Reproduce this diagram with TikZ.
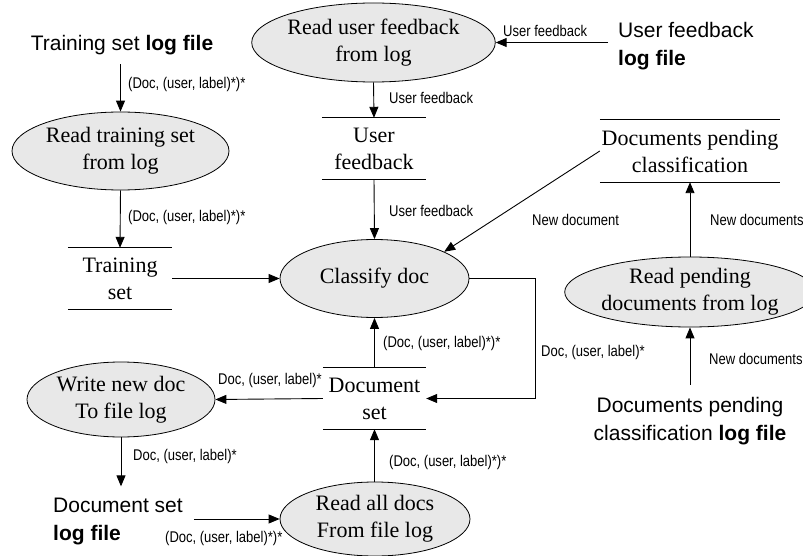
\documentclass[tikz,border=0pt]{standalone}
\usepackage{fontspec}
\setmainfont{Liberation Serif}
\newfontfamily\filesansfam{Liberation Sans}
\newfontfamily\labelsansfam[FakeStretch=0.84]{Liberation Sans}
\usetikzlibrary{shapes.geometric,arrows.meta}
\newcommand\procfont{\rmfamily\fontsize{22}{27}\selectfont}
\newcommand\filefont{\filesansfam\fontsize{21}{28}\selectfont}
\newcommand\flowfont{\labelsansfam\fontsize{15.5}{18}\selectfont}
\definecolor{procfill}{RGB}{232,232,232}
\tikzset{
  proc/.style={ellipse, draw, fill=procfill, line width=0.8pt, inner sep=0pt, align=center, font=\procfont},
  datastore/.style={inner sep=0pt, align=center, font=\procfont},
  logfile/.style={inner sep=0pt, font=\filefont},
  flowlbl/.style={inner sep=0pt, anchor=west, font=\flowfont},
  flow/.style={draw, line width=0.9pt, -{Triangle[length=11pt,width=9pt]}},
  storeline/.style={line width=0.9pt}
}
\begin{document}
\begin{tikzpicture}[x=1pt,y=-1pt]
\useasboundingbox (0,0) rectangle (803,556);

% processes
\node[proc, minimum width=217pt, minimum height=79pt] (rufb) at (373.5,42.5) {Read user feedback\\from log};
\node[proc, minimum width=217pt, minimum height=78pt] (rts) at (120.5,151) {Read training set\\from log};
\node[proc, minimum width=189pt, minimum height=78pt] (cls) at (374.5,278.5) {Classify doc};
\node[proc, minimum width=188pt, minimum height=75pt] (wnd) at (121,399.5) {Write new doc\\To file log};
\node[proc, minimum width=190pt, minimum height=74pt] (rad) at (375,519) {Read all docs\\From file log};
\node[proc, minimum width=216pt, minimum height=70pt] (rpd) at (690,292) {Read pending\\documents from log};

% data stores
\node[datastore, minimum width=104pt, minimum height=61pt] (uf) at (374,148.5) {User\\feedback};
\node[datastore, minimum width=104pt, minimum height=61pt] (ts) at (120,278.5) {Training\\set};
\node[datastore, minimum width=103pt, minimum height=61pt] (ds) at (374.5,398.5) {Document\\set};
\node[datastore, minimum width=180pt, minimum height=62pt] (dpc) at (690,151) {Documents pending\\classification};
\foreach \s in {uf,ts,ds,dpc}
  \draw[storeline] (\s.north west) -- (\s.north east) (\s.south west) -- (\s.south east);

% log files
\node[logfile] (tslog) at (122,45) {Training set \textbf{log file}};
\node[logfile, anchor=west, align=left] (ufl) at (618,46) {User feedback\\\textbf{log file}};
\node[logfile, anchor=west, align=left] (dsl) at (53,521) {Document set\\\textbf{log file}};
\node[logfile, align=center] (dpcl) at (690,421) {Documents pending\\classification \textbf{log file}};

% flows
\draw[flow, shorten <=9pt] (tslog.south -| rts.north) -- (rts.north);
\draw[flow] (rts.south) -- (ts.north);
\draw[flow] (ts.east) -- (cls.west);
\draw[flow, shorten <=10pt] (ufl.west |- rufb.east) -- (rufb.east);
\draw[flow] (rufb.south) -- (uf.north);
\draw[flow] (uf.south) -- (cls.north);
\draw[flow] (dpc.west) -- (cls.21);
\draw[flow] (rpd.north) -- (dpc.south);
\draw[flow, shorten <=12pt] (dpcl.north) -- (rpd.south);
\coordinate (loopc) at (535,278.5);
\draw[flow] (cls.east) -- (loopc) |- (ds.east);
\draw[flow] (ds.north) -- (cls.south);
\draw[flow] (ds.west) -- (wnd.east);
\draw[flow, shorten >=11pt] (wnd.south) -- (wnd.south |- dsl.north);
\draw[flow, shorten <=11pt] (dsl.east |- rad.west) -- (rad.west);
\draw[flow] (ds.south |- rad.north) -- (ds.south);

% flow labels
\node[flowlbl] (l1) at (128,84) {(Doc, (user, label)*)*};
\node[flowlbl] (l2) at (128,217) {(Doc, (user, label)*)*};
\node[flowlbl] (l3) at (503,31) {User feedback};
\node[flowlbl] (l4) at (389,98) {User feedback};
\node[flowlbl] (l5) at (389,211) {User feedback};
\node[flowlbl] (l6) at (532,220) {New document};
\node[flowlbl] (l7) at (710,220) {New documents};
\node[flowlbl] (l8) at (709,359) {New documents};
\node[flowlbl] (l9) at (541,352) {Doc, (user, label)*};
\node[flowlbl] (l10) at (383,343) {(Doc, (user, label)*)*};
\node[flowlbl] (l11) at (218,380) {Doc, (user, label)*};
\node[flowlbl] (l12) at (133,456) {Doc, (user, label)*};
\node[flowlbl] (l13) at (389,462) {(Doc, (user, label)*)*};
\node[flowlbl] (l14) at (165,538) {(Doc, (user, label)*)*};
\end{tikzpicture}
\end{document}
